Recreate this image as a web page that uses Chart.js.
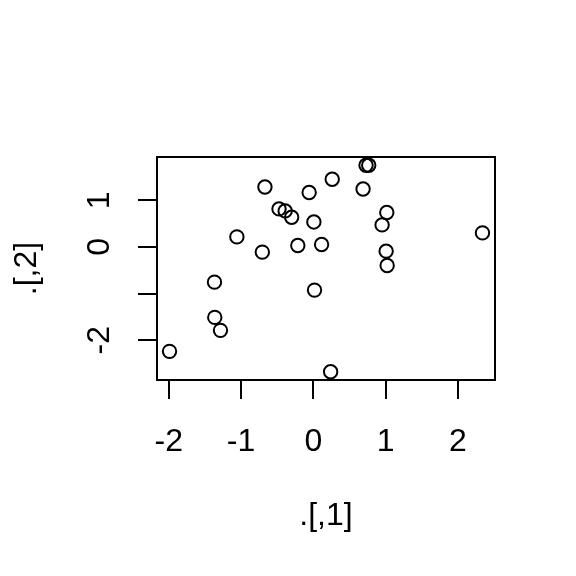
<!DOCTYPE html>
<html>
<head>
<meta charset="utf-8">
<script src="https://cdn.jsdelivr.net/npm/chart.js@4"></script>
<style>
html,body{margin:0;padding:0;background:#fff;}
#wrap{width:576px;height:576px;position:relative;}
</style>
</head>
<body>
<div id="wrap"><canvas id="c"></canvas></div>
<script>
// Data
const xValues = [-0.67, -0.058, -0.475, -0.39, -0.30, 0.007, -1.058, -0.706, -0.215, 0.114, -1.368, 0.016, -1.364, -1.285, -1.99, 0.239, 0.261, 0.729, 0.766, 0.688, 1.016, 0.951, 2.34, 1.007, 1.021];
const yValues = [1.285, 1.165, 0.814, 0.771, 0.636, 0.535, 0.214, -0.113, 0.03, 0.05, -0.756, -0.927, -1.512, -1.79, -2.24, -2.677, 1.45, 1.75, 1.75, 1.242, 0.736, 0.471, 0.30, -0.092, -0.399];
const xTicks = [-2, -1, 0, 1, 2];
const xTickLabels = ["-2", "-1", "0", "1", "2"];
const yTicks = [-2, -1, 0, 1];
const yTickLabels = ["-2", "", "0", "1"];
const xTitle = ".[,1]";
const yTitle = ".[,2]";

// R-style axis range: data range extended by 4% on each side
function rRange(arr){
  const mn = Math.min(...arr), mx = Math.max(...arr);
  const d = (mx - mn) * 0.04;
  return [mn - d, mx + d];
}
const xr = rRange(xValues), yr = rRange(yValues);

const points = xValues.map((x, i) => ({x: x, y: yValues[i]}));
const FONT = '32px "Liberation Sans", Arial, Helvetica, sans-serif';

const rPlot = {
  id: 'rPlot',
  afterDraw(chart){
    const ctx = chart.ctx, a = chart.chartArea;
    const xs = chart.scales.x, ys = chart.scales.y;
    ctx.save();
    ctx.strokeStyle = '#000';
    ctx.lineWidth = 2;
    ctx.strokeRect(a.left, a.top, a.right - a.left, a.bottom - a.top);
    ctx.fillStyle = '#000';
    ctx.font = FONT;
    // x tick labels
    ctx.textAlign = 'center';
    ctx.textBaseline = 'alphabetic';
    xTicks.forEach((v, i) => {
      ctx.fillText(xTickLabels[i], xs.getPixelForValue(v), 451);
    });
    // x title
    ctx.fillText(xTitle, (a.left + a.right) / 2, 525);
    // y tick labels (rotated)
    yTicks.forEach((v, i) => {
      if (!yTickLabels[i]) return;
      ctx.save();
      ctx.translate(109, ys.getPixelForValue(v));
      ctx.rotate(-Math.PI / 2);
      ctx.fillText(yTickLabels[i], 0, 0);
      ctx.restore();
    });
    // y title
    ctx.save();
    ctx.translate(35.5, (a.top + a.bottom) / 2);
    ctx.rotate(-Math.PI / 2);
    ctx.fillText(yTitle, 0, 0);
    ctx.restore();
    ctx.restore();
  }
};

new Chart(document.getElementById('c'), {
  type: 'scatter',
  data: {
    datasets: [{
      data: points,
      pointStyle: 'circle',
      pointRadius: 6.7,
      pointHoverRadius: 6.7,
      pointBorderWidth: 2,
      pointHoverBorderWidth: 2,
      pointBorderColor: '#000',
      pointBackgroundColor: 'rgba(0,0,0,0)',
      borderWidth: 2,
      borderColor: '#000',
      backgroundColor: 'rgba(0,0,0,0)',
      clip: false
    }]
  },
  options: {
    responsive: true,
    maintainAspectRatio: false,
    animation: false,
    events: [],
    layout: { padding: { top: 157, right: 81, left: 0, bottom: 0 } },
    plugins: { legend: { display: false }, tooltip: { enabled: false } },
    scales: {
      x: {
        type: 'linear',
        min: xr[0], max: xr[1],
        afterBuildTicks: s => { s.ticks = xTicks.map(v => ({value: v})); },
        afterFit: s => { s.height = 196; },
        ticks: { display: false },
        border: { display: false },
        grid: { drawOnChartArea: false, drawTicks: true, tickLength: 19, tickColor: '#000', tickWidth: 2, color: '#000', lineWidth: 2 }
      },
      y: {
        type: 'linear',
        min: yr[0], max: yr[1],
        afterBuildTicks: s => { s.ticks = yTicks.map(v => ({value: v})); },
        afterFit: s => { s.width = 157; },
        ticks: { display: false },
        border: { display: false },
        grid: { drawOnChartArea: false, drawTicks: true, tickLength: 19, tickColor: '#000', tickWidth: 2, color: '#000', lineWidth: 2 }
      }
    }
  },
  plugins: [rPlot]
});
</script>
</body>
</html>
